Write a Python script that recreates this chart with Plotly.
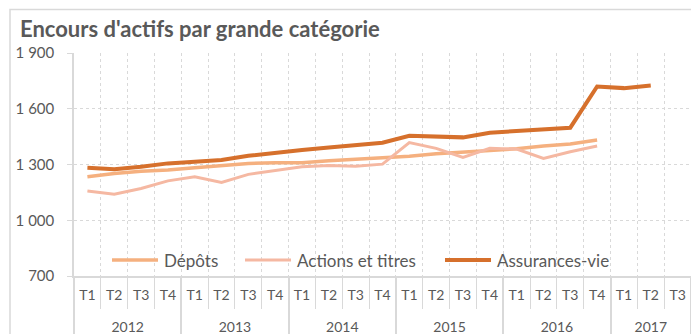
import plotly.graph_objects as go

# Quarterly outstanding amounts by asset class
years = ["2012"] * 4 + ["2013"] * 4 + ["2014"] * 4 + ["2015"] * 4 + ["2016"] * 4 + ["2017"] * 3
quarters = ["T1", "T2", "T3", "T4"] * 5 + ["T1", "T2", "T3"]

depots = [1234, 1252, 1264, 1270, 1282, 1293, 1306, 1309, 1309, 1320, 1327, 1336,
          1345, 1358, 1365, 1375, 1385, 1400, 1410, 1432]
actions_titres = [1158, 1140, 1171, 1212, 1234, 1203, 1247, 1266, 1288, 1295, 1291, 1302,
                  1418, 1387, 1338, 1387, 1383, 1333, 1369, 1400]
assurances_vie = [1282, 1275, 1288, 1306, 1315, 1324, 1347, 1360, 1378, 1392, 1406, 1417,
                  1455, 1450, 1446, 1471, 1480, 1486, 1498, 1720, 1711, 1725]

series_names = ["Dépôts", "Actions et titres", "Assurances-vie"]
series_values = [depots, actions_titres, assurances_vie]
series_colors = ["#F5B07F", "#F5B8A2", "#D6702C"]
series_widths = [3.5, 3, 4]

y_ticks = [700, 1000, 1300, 1600, 1900]
y_ticktext = ["700", "1 000", "1 300", "1 600", "1 900"]

FONT = "Lato"
GREY_TXT = "#595959"
GREY_LINE = "#D9D9D9"

n = len(quarters)
# year labels sit one blank line below the quarter row
year_labels = ["<br>" + y for y in years]

fig = go.Figure()
for name, vals, col, w in zip(series_names, series_values, series_colors, series_widths):
    padded = list(vals) + [None] * (n - len(vals))
    fig.add_trace(go.Scatter(
        x=[year_labels, quarters], y=padded, mode="lines", name=name,
        line=dict(color=col, width=w), showlegend=False,
    ))

# Legend drawn as line samples with text beside them
legend_y = 260
legend_starts = [112, 245, 445]
W, H = 691, 334
ml, mr, mt, mb = 74, 0, 53, 58
pw, ph = W - ml - mr, H - mt - mb


def px_to_paper_x(px):
    return (px - ml) / pw


def px_to_paper_y(py):
    return (H - mb - py) / ph


shapes = []
annotations = []
for name, col, w, x0 in zip(series_names, series_colors, series_widths, legend_starts):
    shapes.append(dict(type="line", xref="paper", yref="paper",
                       x0=px_to_paper_x(x0), x1=px_to_paper_x(x0 + 46),
                       y0=px_to_paper_y(legend_y), y1=px_to_paper_y(legend_y),
                       line=dict(color=col, width=w)))
    annotations.append(dict(xref="paper", yref="paper", x=px_to_paper_x(x0 + 50),
                            y=px_to_paper_y(legend_y), text=name, showarrow=False,
                            xanchor="left", yanchor="middle",
                            font=dict(family=FONT, size=17, color=GREY_TXT)))

# Outer chart frame
shapes.append(dict(type="rect", xref="paper", yref="paper", layer="below",
                   x0=px_to_paper_x(10), x1=px_to_paper_x(W + 20),
                   y0=px_to_paper_y(H + 20), y1=px_to_paper_y(9.5),
                   line=dict(color=GREY_LINE, width=1.5), fillcolor="rgba(0,0,0,0)"))

fig.update_layout(
    width=W, height=H,
    margin=dict(l=ml, r=mr, t=mt, b=mb),
    paper_bgcolor="white", plot_bgcolor="white",
    title=dict(text="<b>Encours d'actifs par grande catégorie</b>",
               xref="container", yref="container", x=20 / W, xanchor="left",
               y=1 - 29 / H, yanchor="middle",
               font=dict(family=FONT, size=22, color=GREY_TXT)),
    shapes=shapes, annotations=annotations,
    xaxis=dict(
        type="multicategory", range=[-0.5, n - 0.5],
        tickson="boundaries", ticks="outside", ticklen=31, tickcolor=GREY_LINE,
        showgrid=True, gridcolor=GREY_LINE, griddash="dot", gridwidth=1,
        showline=True, linecolor=GREY_LINE, linewidth=1.5,
        showdividers=True, dividercolor=GREY_LINE, dividerwidth=1.5,
        tickfont=dict(family=FONT, size=14, color=GREY_TXT),
        ticklabelstandoff=5, zeroline=False,
    ),
    yaxis=dict(
        range=[700, 1900], tickvals=y_ticks, ticktext=y_ticktext,
        ticks="outside", ticklen=5, tickcolor=GREY_LINE,
        showgrid=True, gridcolor=GREY_LINE, griddash="dot", gridwidth=1,
        showline=True, linecolor=GREY_LINE, linewidth=1.5,
        tickfont=dict(family=FONT, size=15, color=GREY_TXT),
        ticklabelstandoff=10, zeroline=False,
    ),
)

fig.write_html("out.html")
